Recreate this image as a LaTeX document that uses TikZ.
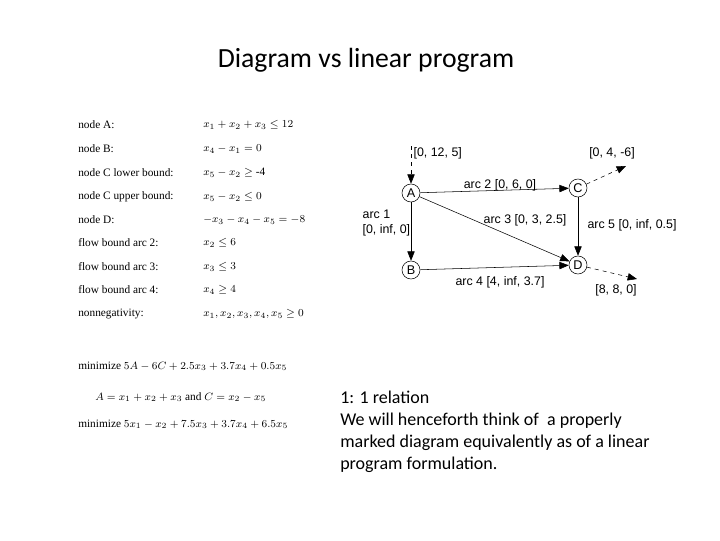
\documentclass[tikz,border=0pt]{standalone}
\usepackage{fontspec}
\setmainfont{Liberation Serif}
\newfontfamily\calfont{Carlito}
\newfontfamily\arl{Liberation Sans}
\usetikzlibrary{arrows.meta}
\begin{document}
\begin{tikzpicture}[x=0.75pt,y=-0.75pt,
  nd/.style={circle,draw,thin,minimum size=13.5pt,inner sep=0pt,font=\arl\fontsize{9.5}{11}\selectfont},
  lab/.style={font=\arl\fontsize{9.3}{11}\selectfont,inner sep=1pt},
  arr/.style={-{Triangle[length=7pt,width=5.5pt]},thin},
  dsh/.style={arr,dashed},
  lt/.style={anchor=west,font=\fontsize{8.5}{10}\selectfont,inner sep=0pt},
  bt/.style={anchor=west,font=\calfont\fontsize{13.5}{16.5}\selectfont,align=left,inner sep=0pt}]
\useasboundingbox (0,0) rectangle (720,540);
\node[font=\calfont\fontsize{20.8}{24}\selectfont] (title) at (366,60) {Diagram vs linear program};
% left constraints
\foreach \i/\y/\a/\b in {1/125/node A:/{$x_1+x_2+x_3\le 12$},2/149/node B:/{$x_4-x_1=0$},3/173/node C lower bound:/{$x_5-x_2\ge$ -4},4/197/node C upper bound:/{$x_5-x_2\le 0$},5/220/node D:/{$-x_3-x_4-x_5=-8$},6/243/flow bound arc 2:/{$x_2\le 6$},7/267/flow bound arc 3:/{$x_3\le 3$},8/290/flow bound arc 4:/{$x_4\ge 4$},9/314/nonnegativity:/{$x_1,x_2,x_3,x_4,x_5\ge 0$}}{
  \node[lt] (l\i) at (78,\y) {\a};
  \node[lt] (m\i) at (203,\y) {\b};
}
\node[lt] (o1) at (78,366) {minimize $5A-6C+2.5x_3+3.7x_4+0.5x_5$};
\node[lt] (o2) at (95,397) {$A=x_1+x_2+x_3$ and $C=x_2-x_5$};
\node[lt] (o3) at (78,424) {minimize $5x_1-x_2+7.5x_3+3.7x_4+6.5x_5$};
% diagram
\node[nd] (A) at (411,193) {A};
\node[nd] (B) at (411,270) {B};
\node[nd] (C) at (578,188) {C};
\node[nd] (D) at (578,265) {D};
\coordinate (s) at (411,146);
\coordinate (ce) at (626,166);
\coordinate (de) at (637,279);
\draw[dsh] (s) -- (A);
\draw[dsh] (C) -- (ce);
\draw[dsh] (D) -- (de);
\draw[arr] (A) -- (C);
\draw[arr] (A) -- (B);
\draw[arr] (A) -- (D);
\draw[arr] (C) -- (D);
\draw[arr] (B) -- (D);
\node[lab,anchor=west] (l0) at (412,153) {[0, 12, 5]};
\node[lab] (lc) at (612,153) {[0, 4, -6]};
\node[lab] (l2) at (500,185) {arc 2 [0, 6, 0]};
\node[lab,anchor=west,align=left] (l1) at (361,223) {arc 1\\{[0, inf, 0]}};
\node[lab] (l3) at (525,220) {arc 3 [0, 3, 2.5]};
\node[lab] (l5) at (632,225) {arc 5 [0, inf, 0.5]};
\node[lab] (l4) at (500,282) {arc 4 [4, inf, 3.7]};
\node[lab] (ld) at (616,290) {[8, 8, 0]};
% bottom text
\node[bt,anchor=north west] (txt) at (340,391) {1: 1 relation\\We will henceforth think of \ a properly\\marked diagram equivalently as of a linear\\program formulation.};
\end{tikzpicture}
\end{document}
